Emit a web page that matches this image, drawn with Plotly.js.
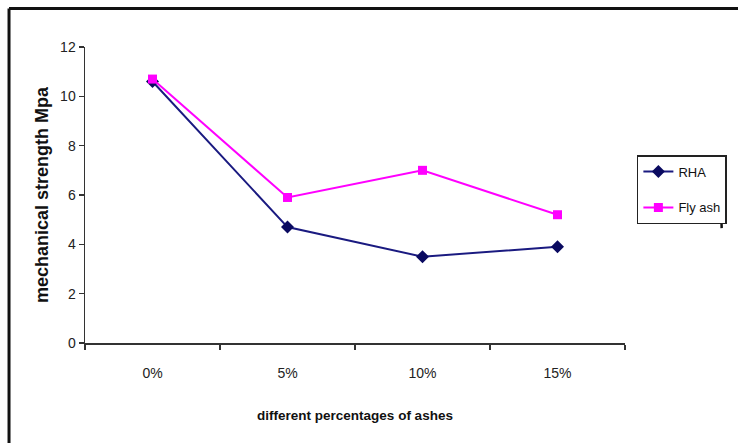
<!DOCTYPE html>
<html>
<head>
<meta charset="utf-8">
<script src="https://cdn.plot.ly/plotly-3.0.1.min.js"></script>
<style>
  html, body { margin: 0; padding: 0; background: #fff; }
  #chart { width: 738px; height: 443px; }
</style>
</head>
<body>
<div id="chart"></div>
<script>
// Ash replacement levels (x categories)
const percentages = ['0%', '5%', '10%', '15%'];
// Mechanical strength (MPa) for rice husk ash
const rhaStrength = [10.6, 4.7, 3.5, 3.9];
// Mechanical strength (MPa) for fly ash
const flyAshStrength = [10.7, 5.9, 7.0, 5.2];
const yTicks = [0, 2, 4, 6, 8, 10, 12];

const sans = 'Liberation Sans, Arial, sans-serif';

const traces = [
  {
    x: percentages, y: rhaStrength, name: 'RHA', type: 'scatter', mode: 'lines+markers',
    legendgroup: 'a',
    line: { color: '#1a1a80', width: 2 },
    marker: { symbol: 'diamond', size: 10, color: '#0a0a60' }
  },
  {
    x: percentages, y: flyAshStrength, name: 'Fly ash', type: 'scatter', mode: 'lines+markers',
    legendgroup: 'b',
    line: { color: '#ff00ff', width: 2 },
    marker: { symbol: 'square', size: 9, color: '#ff00ff' }
  }
];

const layout = {
  width: 738, height: 443,
  margin: { l: 85, r: 113, t: 47, b: 100, autoexpand: false },
  paper_bgcolor: '#ffffff', plot_bgcolor: '#ffffff',
  showlegend: true,
  legend: {
    x: 1.022, y: 0.635, xanchor: 'left', yanchor: 'top',
    bordercolor: '#222', borderwidth: 1.5, bgcolor: '#ffffff',
    traceorder: 'grouped', tracegroupgap: 16,
    font: { family: sans, size: 13, color: '#111' }
  },
  xaxis: {
    type: 'category', range: [-0.5, 3.5],
    showgrid: false, zeroline: false,
    showline: true, linecolor: '#333', linewidth: 1.5,
    ticks: 'outside', tickson: 'boundaries', ticklen: 5, tickcolor: '#333', tickwidth: 1.2,
    ticklabelstandoff: 17,
    tickfont: { family: sans, size: 14, color: '#222' },
    title: { text: '<b>different percentages of ashes</b>', standoff: 30,
             font: { family: sans, size: 13.5, color: '#111' } }
  },
  yaxis: {
    range: [0, 12], tickvals: yTicks,
    showgrid: false, zeroline: false,
    showline: true, linecolor: '#333', linewidth: 1.5,
    ticks: 'outside', ticklen: 5, tickcolor: '#333', tickwidth: 1.2,
    tickfont: { family: sans, size: 14, color: '#222' },
    title: { text: '<b>mechanical strength Mpa</b>', standoff: 7,
             font: { family: sans, size: 18, color: '#111' } }
  },
  shapes: [
    // outer frame: top and left edges
    { type: 'line', xref: 'paper', yref: 'paper', x0: -0.1407, x1: 1.3, y0: 1.13, y1: 1.13,
      line: { color: '#111', width: 3 } },
    { type: 'line', xref: 'paper', yref: 'paper', x0: -0.1407, x1: -0.1407, y0: 1.13, y1: -0.4,
      line: { color: '#111', width: 3 } },
    // thick right edge of the legend frame
    { type: 'line', xref: 'paper', yref: 'paper', x0: 1.176, x1: 1.179, y0: 0.632, y1: 0.388,
      line: { color: '#111', width: 2.5 } }
  ]
};

Plotly.newPlot('chart', traces, layout, { displayModeBar: false, staticPlot: true });
</script>
</body>
</html>
